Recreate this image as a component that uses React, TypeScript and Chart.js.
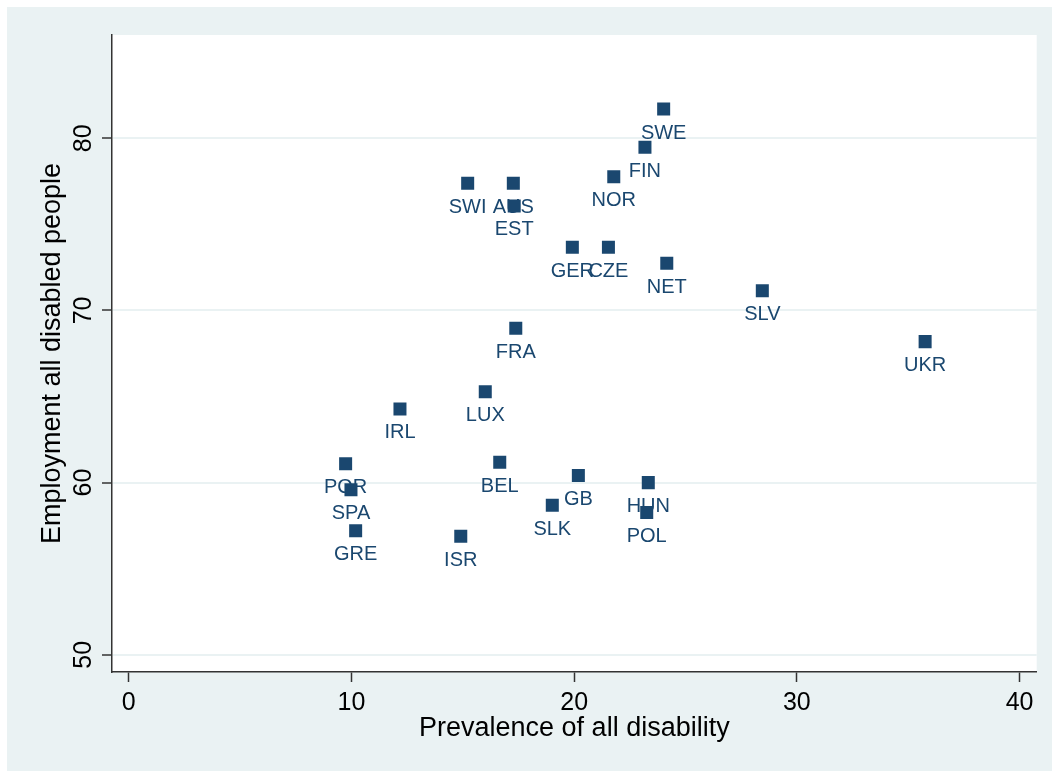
import React, { useEffect, useRef } from "react";
import { Chart, registerables } from "chart.js";

Chart.register(...registerables);

const countries = ["SWE", "FIN", "NOR", "SWI", "AUS", "EST", "GER", "CZE", "NET", "SLV", "UKR", "FRA", "LUX", "IRL", "POR", "SPA", "GRE", "ISR", "BEL", "GB", "SLK", "HUN", "POL"];
const prevalence = [24.02, 23.18, 21.78, 15.22, 17.27, 17.31, 19.92, 21.54, 24.16, 28.45, 35.76, 17.38, 16.01, 12.18, 9.74, 9.98, 10.19, 14.91, 16.66, 20.19, 19.02, 23.33, 23.26];
const employment = [81.7, 79.48, 77.77, 77.39, 77.39, 76.07, 73.67, 73.67, 72.74, 71.15, 68.19, 68.97, 65.28, 64.28, 61.09, 59.58, 57.2, 56.89, 61.18, 60.41, 58.69, 60.0, 58.26];
const xTicks = [0, 10, 20, 30, 40];
const yTicks = [50, 60, 70, 80];

const FONT = "'Liberation Sans', Arial, Helvetica, sans-serif";
const NAVY = "#1a476f";
const LIGHT = "#eaf2f3";

const bgPlugin = {
  id: "bgPlugin",
  beforeDraw(chart: any) {
    const { ctx, width, height, chartArea } = chart;
    ctx.save();
    ctx.fillStyle = "#ffffff";
    ctx.fillRect(0, 0, width, height);
    ctx.fillStyle = LIGHT;
    ctx.fillRect(7, 7, width - 7, height - 7);
    ctx.fillStyle = "#ffffff";
    ctx.fillRect(chartArea.left, chartArea.top, chartArea.right - chartArea.left, chartArea.bottom - chartArea.top);
    ctx.restore();
  },
};

const labelPlugin = {
  id: "labelPlugin",
  beforeDatasetsDraw(chart: any) {
    const { ctx } = chart;
    const meta = chart.getDatasetMeta(0);
    ctx.save();
    ctx.font = `20px ${FONT}`;
    ctx.fillStyle = NAVY;
    ctx.textAlign = "center";
    ctx.textBaseline = "alphabetic";
    meta.data.forEach((el: any, i: number) => {
      ctx.fillText(countries[i], el.x, el.y + 29.5);
    });
    ctx.restore();
  },
};

const yTickLabelPlugin = {
  id: "yTickLabelPlugin",
  afterDraw(chart: any) {
    const { ctx } = chart;
    const ys = chart.scales.y;
    ctx.save();
    ctx.font = `25px ${FONT}`;
    ctx.fillStyle = "#000000";
    ctx.textAlign = "center";
    ctx.textBaseline = "alphabetic";
    ys.ticks.forEach((t: any) => {
      const py = ys.getPixelForValue(t.value);
      ctx.save();
      ctx.translate(91, py);
      ctx.rotate(-Math.PI / 2);
      ctx.fillText(String(t.value), 0, 0);
      ctx.restore();
    });
    ctx.restore();
  },
};

export default function App() {
  const canvasRef = useRef<HTMLCanvasElement | null>(null);

  useEffect(() => {
    const canvas = canvasRef.current;
    if (!canvas) return;
    const points = prevalence.map((x, i) => ({ x, y: employment[i] }));
    const chart = new Chart(canvas, {
      type: "scatter",
      data: {
        datasets: [
          {
            data: points,
            pointStyle: "rect",
            pointRadius: 9.2,
            pointHoverRadius: 9.2,
            pointBackgroundColor: NAVY,
            pointBorderColor: NAVY,
            pointBorderWidth: 0,
          },
        ],
      },
      options: {
        responsive: false,
        animation: false,
        devicePixelRatio: 1,
        events: [],
        layout: { padding: { top: 35, right: 15.3, left: 0, bottom: 0 } },
        font: { family: FONT },
        plugins: {
          legend: { display: false },
          tooltip: { enabled: false },
        },
        scales: {
          x: {
            type: "linear",
            min: -0.75,
            max: 40.77,
            afterBuildTicks: (s: any) => {
              s.ticks = xTicks.map((v) => ({ value: v }));
            },
            afterFit: (s: any) => {
              s.height = 99;
            },
            grid: {
              drawOnChartArea: false,
              drawTicks: true,
              tickLength: 10,
              tickColor: "#333333",
              tickWidth: 1.5,
            },
            border: { display: true, color: "#333333", width: 1.5 },
            ticks: {
              color: "#000000",
              font: { family: FONT, size: 25 },
              padding: 6,
              maxRotation: 0,
              minRotation: 0,
              autoSkip: false,
            },
            title: {
              display: true,
              text: "Prevalence of all disability",
              color: "#000000",
              font: { family: FONT, size: 27 },
              padding: { top: 0, bottom: 26 },
            },
          },
          y: {
            type: "linear",
            min: 49.0,
            max: 86.0,
            afterBuildTicks: (s: any) => {
              s.ticks = yTicks.map((v) => ({ value: v }));
            },
            afterFit: (s: any) => {
              s.width = 112;
            },
            grid: {
              color: LIGHT,
              lineWidth: 2,
              drawTicks: true,
              tickLength: 10,
              tickColor: "#333333",
              tickWidth: 1.5,
            },
            border: { display: true, color: "#333333", width: 1.5 },
            ticks: { display: false },
            title: {
              display: true,
              text: "Employment all disabled people",
              color: "#000000",
              font: { family: FONT, size: 27 },
              padding: { top: 36, bottom: 0 },
            },
          },
        },
      },
      plugins: [bgPlugin, labelPlugin, yTickLabelPlugin],
    } as any);
    return () => {
      chart.destroy();
    };
  }, []);

  return (
    <div style={{ position: "absolute", left: 0, top: 0, width: 1052, height: 771 }}>
      <canvas ref={canvasRef} width={1052} height={771} style={{ display: "block", width: 1052, height: 771 }} />
    </div>
  );
}
